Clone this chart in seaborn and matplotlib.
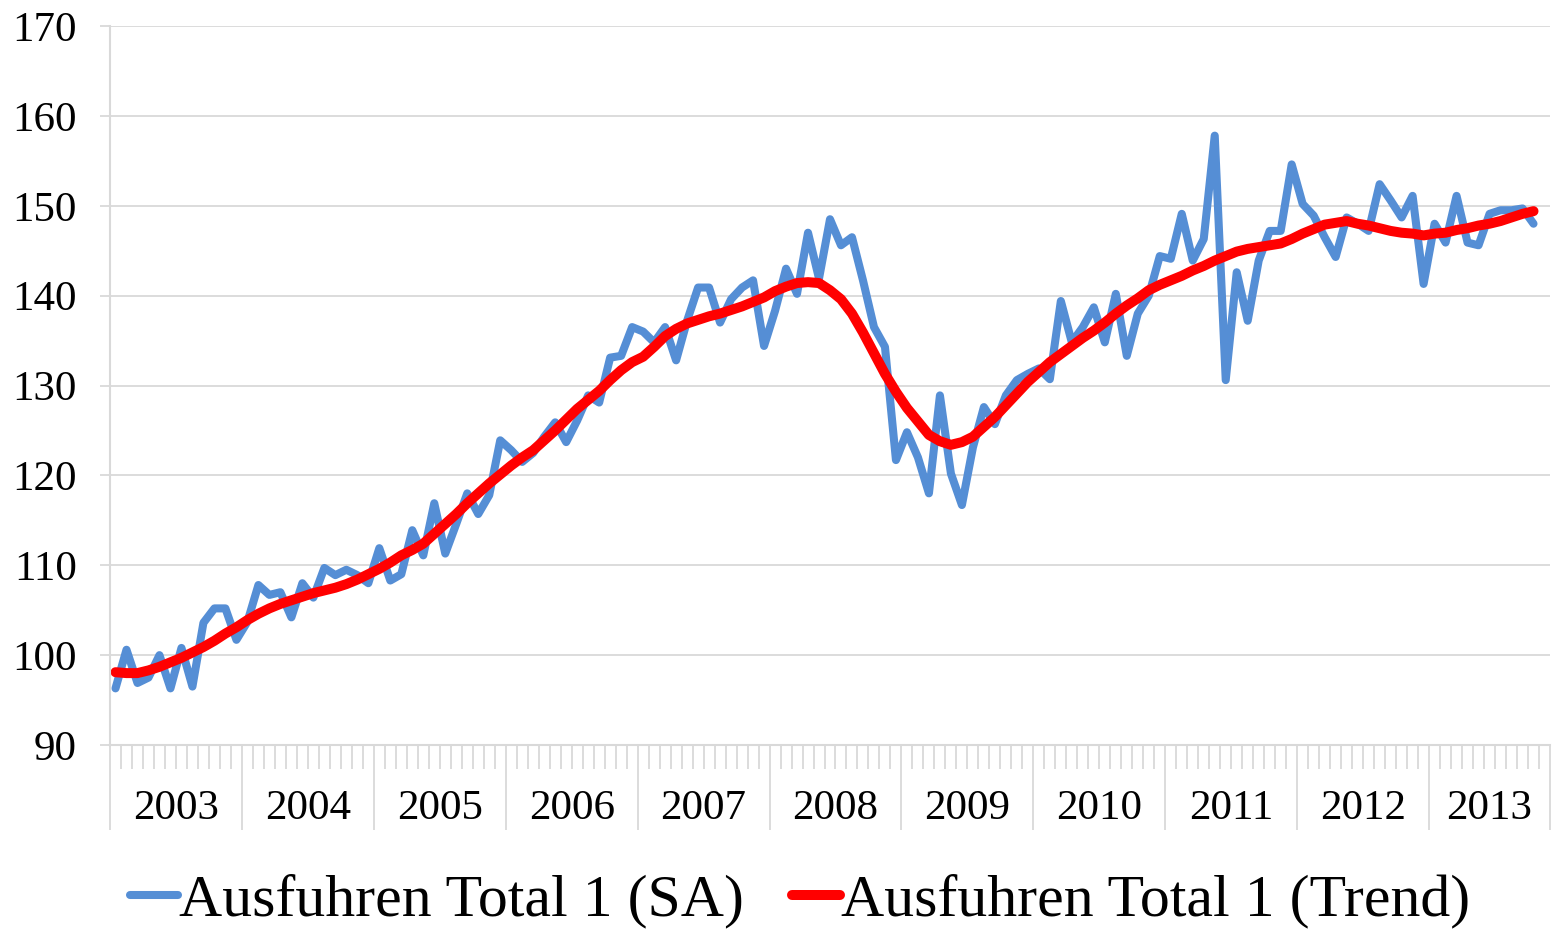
import numpy as np
import pandas as pd
import seaborn as sns
import matplotlib.pyplot as plt

# monthly index, Jan 2003 .. Nov 2013 (last month has no value)
years = ["2003", "2004", "2005", "2006", "2007", "2008",
         "2009", "2010", "2011", "2012", "2013"]
months_in_year = [12, 12, 12, 12, 12, 12, 12, 12, 12, 12, 11]

sa = [
    96.3, 100.6, 96.9, 97.5, 100.0, 96.3, 100.8, 96.5, 103.6, 105.2, 105.2, 101.7,
    103.7, 107.8, 106.7, 107.0, 104.2, 108.0, 106.4, 109.7, 108.9, 109.5, 108.9, 108.0,
    111.9, 108.3, 109.0, 113.9, 111.1, 116.9, 111.3, 114.6, 118.0, 115.7, 117.8, 123.9,
    122.8, 121.5, 122.5, 124.3, 125.9, 123.7, 126.1, 128.9, 128.1, 133.1, 133.3, 136.5,
    136.0, 134.8, 136.5, 132.8, 137.2, 140.9, 140.9, 137.0, 139.6, 140.9, 141.7, 134.4,
    138.3, 143.0, 140.2, 147.0, 141.9, 148.5, 145.6, 146.5, 141.7, 136.5, 134.3, 121.7,
    124.8, 122.0, 118.0, 128.9, 120.2, 116.7, 123.1, 127.6, 125.7, 128.9, 130.6, 131.3,
    131.9, 130.7, 139.4, 134.8, 136.5, 138.7, 134.8, 140.2, 133.3, 138.0, 140.0, 144.4,
    144.1, 149.1, 143.9, 146.3, 157.8, 130.6, 142.6, 137.2, 143.9, 147.2, 147.2, 154.6,
    150.2, 148.9, 146.5, 144.3, 148.7, 148.0, 147.2, 152.4, 150.6, 148.7, 151.1, 141.3,
    148.0, 145.9, 151.1, 145.9, 145.6, 149.1, 149.5, 149.5, 149.7, 148.0,
]

trend = [
    98.1, 98.0, 98.0, 98.3, 98.7, 99.2, 99.7, 100.3, 100.9, 101.6, 102.4, 103.1,
    103.9, 104.6, 105.2, 105.7, 106.1, 106.5, 106.9, 107.2, 107.5, 107.9, 108.4, 109.0,
    109.6, 110.3, 111.1, 111.7, 112.4, 113.5, 114.6, 115.7, 116.9, 118.0, 119.1, 120.1,
    121.1, 122.0, 122.8, 123.9, 125.0, 126.2, 127.4, 128.4, 129.4, 130.6, 131.7, 132.6,
    133.2, 134.3, 135.5, 136.3, 136.9, 137.3, 137.7, 138.0, 138.4, 138.8, 139.3, 139.8,
    140.5, 141.0, 141.4, 141.5, 141.4, 140.6, 139.6, 138.0, 135.9, 133.6, 131.3, 129.3,
    127.5, 126.0, 124.5, 123.8, 123.4, 123.7, 124.3, 125.4, 126.5, 127.8, 129.1, 130.4,
    131.5, 132.6, 133.5, 134.4, 135.3, 136.1, 137.0, 138.0, 138.9, 139.7, 140.6, 141.2,
    141.7, 142.2, 142.8, 143.3, 143.9, 144.4, 144.9, 145.2, 145.4, 145.6, 145.8, 146.3,
    146.9, 147.4, 147.9, 148.1, 148.3, 148.0, 147.8, 147.5, 147.2, 147.0, 146.9, 146.7,
    146.9, 147.0, 147.3, 147.5, 147.8, 148.0, 148.3, 148.7, 149.1, 149.4,
]

n_months = sum(months_in_year)
df = pd.DataFrame({"month": np.arange(len(sa)), "SA": sa, "Trend": trend})

sns.set_theme(style="white")
plt.rcParams["font.family"] = ["Liberation Serif", "DejaVu Serif"]
plt.rcParams["text.color"] = "black"

grey = "#d9d9d9"

fig = plt.figure(figsize=(15.52, 9.30), dpi=100)
ax = fig.add_axes([110 / 1552, 1 - 745 / 930, 1440 / 1552, 719 / 930])

sns.lineplot(data=df, x="month", y="SA", ax=ax, color="#558ed5", linewidth=5.8,
             label="Ausfuhren Total 1 (SA)", solid_joinstyle="round", solid_capstyle="round")
sns.lineplot(data=df, x="month", y="Trend", ax=ax, color="#ff0000", linewidth=7.2,
             label="Ausfuhren Total 1 (Trend)", solid_joinstyle="round", solid_capstyle="round")

ax.set_xlim(-0.5, n_months - 0.5)
ax.set_ylim(90, 170)
ax.set_yticks(range(90, 171, 10))
ax.set_xlabel("")
ax.set_ylabel("")
ax.yaxis.grid(True, color=grey, linewidth=1.3)
ax.set_axisbelow(True)

for side in ["top", "right"]:
    ax.spines[side].set_visible(False)
for side in ["left", "bottom"]:
    ax.spines[side].set_color(grey)
    ax.spines[side].set_linewidth(1.5)

ax.tick_params(axis="y", left=True, labelsize=31, length=7, width=1.3,
               color=grey, pad=17, labelcolor="black")

# year separators (long) and month ticks (short)
bounds = np.cumsum([0] + months_in_year) - 0.5
ax.set_xticks(bounds)
ax.set_xticklabels([])
ax.set_xticks(np.arange(n_months + 1) - 0.5, minor=True)
ax.tick_params(axis="x", which="major", bottom=True, length=61, width=1.3, color=grey)
ax.tick_params(axis="x", which="minor", bottom=True, length=17, width=1.3, color=grey)

centers = bounds[:-1] + np.array(months_in_year) / 2
sec = ax.secondary_xaxis("bottom")
sec.set_xticks(centers, labels=years)
sec.tick_params(length=0, labelsize=31, pad=32, labelcolor="black")
sec.spines["bottom"].set_visible(False)

handles, labels = ax.get_legend_handles_labels()
ax.get_legend().remove()
fig.legend(handles, labels, loc="center", bbox_to_anchor=(800 / 1552, 1 - 901 / 930),
           ncol=2, frameon=False, fontsize=43, handlelength=0.8,
           handletextpad=0.02, columnspacing=0.8, labelcolor="black",
           borderpad=0.1)

fig.savefig("out.png", dpi=100)
